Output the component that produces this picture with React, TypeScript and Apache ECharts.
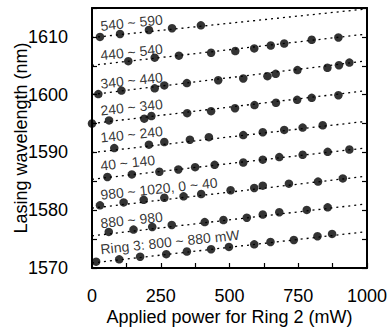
import React, { useEffect, useRef } from "react";
import * as echarts from "echarts";

// Applied power for Ring 2 (mW) and lasing wavelength (nm) per Ring 3 power band
const seriesNames = [
  "540 ~ 590",
  "440 ~ 540",
  "340 ~ 440",
  "240 ~ 340",
  "140 ~ 240",
  "40 ~ 140",
  "980 ~ 1020, 0 ~ 40",
  "880 ~ 980",
  "Ring 3: 800 ~ 880 mW",
];

const xs1 = [29, 102, 207, 291, 396];
const ys1 = [1610.0, 1610.5, 1611.2, 1611.5, 1612.0];
const xs2 = [132, 228, 316, 433, 521, 590, 650, 699, 799, 896];
const ys2 = [1605.8, 1606.4, 1606.75, 1607.25, 1607.55, 1608.0, 1608.5, 1608.85, 1609.5, 1609.9];
const xs3 = [23, 107, 228, 263, 345, 459, 550, 638, 668, 747, 856, 898, 936];
const ys3 = [1600.1, 1600.7, 1601.1, 1601.6, 1602.0, 1602.5, 1602.8, 1603.2, 1603.6, 1604.25, 1604.65, 1605.1, 1605.55];
const xs4 = [0, 62, 190, 216, 346, 433, 520, 591, 669, 746, 799, 896];
const ys4 = [1595.0, 1595.55, 1595.85, 1596.3, 1596.8, 1597.15, 1597.65, 1598.2, 1598.6, 1599.1, 1599.45, 1599.9];
const xs5 = [81, 207, 263, 356, 425, 550, 621, 699, 766, 839];
const ys5 = [1590.75, 1591.35, 1591.8, 1592.2, 1592.65, 1593.0, 1593.5, 1593.9, 1594.3, 1594.7];
const xs6 = [56, 145, 245, 314, 375, 446, 550, 621, 681, 766, 857, 936];
const ys6 = [1585.75, 1586.2, 1586.65, 1587.05, 1587.45, 1587.85, 1588.25, 1588.75, 1589.2, 1589.6, 1590.1, 1590.5];
const xs7 = [29, 115, 188, 263, 333, 397, 504, 590, 621, 716, 822, 912];
const ys7 = [1580.85, 1581.35, 1581.8, 1582.15, 1582.4, 1582.8, 1583.45, 1583.85, 1584.25, 1584.6, 1584.95, 1585.5];
const xs8 = [61, 151, 219, 290, 410, 478, 563, 621, 681, 781, 857];
const ys8 = [1576.25, 1576.65, 1577.1, 1577.45, 1577.95, 1578.3, 1578.7, 1579.25, 1579.65, 1580.05, 1580.5];
const xs9 = [15, 99, 175, 270, 345, 433, 498, 590, 649, 734, 820, 873];
const ys9 = [1571.1, 1571.5, 1571.95, 1572.4, 1572.85, 1573.25, 1573.65, 1574.1, 1574.5, 1574.85, 1575.5, 1575.9];

const allX = [xs1, xs2, xs3, xs4, xs5, xs6, xs7, xs8, xs9];
const allY = [ys1, ys2, ys3, ys4, ys5, ys6, ys7, ys8, ys9];

// dotted guide lines: wavelength at 0 mW and at 1000 mW
const lineX = [0, 1000];
const lineStart = [1609.88, 1605.07, 1600.03, 1595.0, 1589.97, 1585.36, 1580.36, 1575.56, 1570.87];
const lineEnd = [1614.85, 1610.5, 1605.85, 1600.7, 1595.4, 1590.8, 1585.9, 1581.1, 1576.3];

// label anchors (data coords)
const labelX = [29, 29, 29, 29, 29, 29, 29, 29, 29];
const labelY = [1611.89, 1606.81, 1601.89, 1597.26, 1592.57, 1587.71, 1582.67, 1577.76, 1573.25];

const xTicks = { min: 0, max: 1000, step: 125, labelStep: 250 };
const yTicks = { min: 1570, max: 1615, step: 5, labelStep: 10 };

const FONT = "'Liberation Sans', Arial, Helvetica, sans-serif";

export default function App() {
  const ref = useRef<HTMLDivElement>(null);
  useEffect(() => {
    if (!ref.current) return;
    const chart = echarts.init(ref.current, undefined, { renderer: "svg" });
    const series: any[] = [];
    for (let i = 0; i < seriesNames.length; i++) {
      series.push({
        type: "line",
        data: lineX.map((x, k) => [x, k === 0 ? lineStart[i] : lineEnd[i]]),
        symbol: "none",
        silent: true,
        lineStyle: { color: "#000", width: 1.3, type: [2, 4] },
        z: 2,
      });
      series.push({
        type: "scatter",
        name: seriesNames[i],
        data: allX[i].map((x, k) => [x, allY[i][k]]),
        symbol: "circle",
        symbolSize: 8.5,
        itemStyle: { color: "#000" },
        clip: false,
        z: 3,
      });
    }
    series.push({
      type: "scatter",
      data: seriesNames.map((n, i) => ({ name: n, value: [labelX[i], labelY[i]] })),
      symbolSize: 1,
      itemStyle: { color: "transparent" },
      silent: true,
      label: {
        show: true,
        position: "right",
        distance: 0,
        formatter: (p: any) => p.name,
        rotate: 6,
        align: "left",
        verticalAlign: "middle",
        fontSize: 14,
        fontFamily: FONT,
        color: "#000",
      },
      z: 4,
    });

    const axisCommon = {
      axisLine: { show: true, onZero: false, lineStyle: { color: "#000", width: 2 } },
      axisTick: { show: true, inside: true, length: 5, lineStyle: { color: "#000", width: 1.2 } },
      splitLine: { show: false },
    };

    chart.setOption({
      animation: false,
      backgroundColor: "#fff",
      grid: { left: 92, right: 22, top: 8, bottom: 62, containLabel: false, outerBoundsMode: "none" },
      xAxis: [
        {
          type: "value",
          min: xTicks.min,
          max: xTicks.max,
          interval: xTicks.step,
          ...axisCommon,
          axisLabel: {
            margin: 19,
            fontSize: 18,
            fontFamily: FONT,
            color: "#000",
            formatter: (v: number) => (v % xTicks.labelStep === 0 ? String(v) : ""),
          },
          name: "Applied power for Ring 2 (mW)",
          nameLocation: "middle",
          nameGap: 40,
          nameMoveOverlap: false,
          nameTextStyle: { fontSize: 18, fontFamily: FONT, color: "#000" },
        },
        {
          type: "value",
          position: "top",
          min: xTicks.min,
          max: xTicks.max,
          interval: xTicks.step,
          axisLine: { show: true, onZero: false, lineStyle: { color: "#000", width: 2 } },
          axisTick: { show: false },
          axisLabel: { show: false },
          splitLine: { show: false },
        },
      ],
      yAxis: [
        {
          type: "value",
          min: yTicks.min,
          max: yTicks.max,
          interval: yTicks.step,
          ...axisCommon,
          axisLabel: {
            margin: 24,
            fontSize: 18,
            fontFamily: FONT,
            color: "#000",
            formatter: (v: number) => (v % yTicks.labelStep === 0 ? String(v) : ""),
          },
          name: "Lasing wavelength (nm)",
          nameLocation: "middle",
          nameGap: 62,
          nameMoveOverlap: false,
          nameTextStyle: { fontSize: 18, fontFamily: FONT, color: "#000" },
        },
        {
          type: "value",
          position: "right",
          min: yTicks.min,
          max: yTicks.max,
          interval: yTicks.step,
          ...axisCommon,
          axisLabel: { show: false },
        },
      ],
      series,
    });
    return () => chart.dispose();
  }, []);
  return (
    <div
      ref={ref}
      style={{ position: "fixed", left: 0, top: 0, width: 389, height: 330, background: "#fff" }}
    />
  );
}
